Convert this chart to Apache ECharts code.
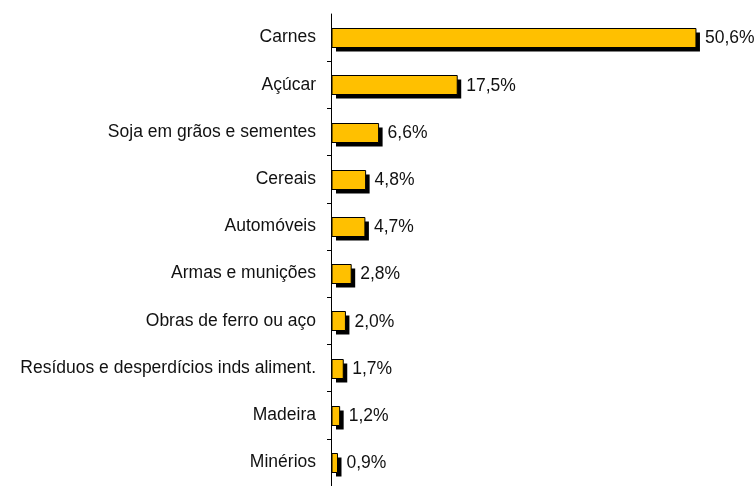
<!DOCTYPE html>
<html><head><meta charset="utf-8">
<script src="https://cdn.jsdelivr.net/npm/echarts@6/dist/echarts.min.js"></script>
<style>html,body{margin:0;padding:0;background:#fff}#c{width:755px;height:486px}</style>
</head><body><div id="c"></div>
<script>
const categories = ["Carnes","Açúcar","Soja em grãos e sementes","Cereais","Automóveis","Armas e munições","Obras de ferro ou aço","Resíduos e desperdícios inds aliment.","Madeira","Minérios"];
const values = [50.6,17.5,6.6,4.8,4.7,2.8,2.0,1.7,1.2,0.9];

const FONT = 'Liberation Sans, Arial, sans-serif';
const chart = echarts.init(document.getElementById('c'), null, {renderer:'canvas'});
chart.setOption({
  animation:false,
  grid:{left:331, top:14, width:396.7, bottom:-4, containLabel:false},
  xAxis:{type:'value', min:0, max:55, show:false},
  yAxis:{type:'category', data:categories, inverse:true,
    axisLine:{lineStyle:{color:'#000', width:1}},
    axisTick:{show:true, length:4, lineStyle:{color:'#000'}, interval:(i)=>i!==0},
    axisLabel:{color:'#111', fontSize:17.5, fontFamily:FONT, margin:15},
    splitLine:{show:false}
  },
  series:[{
    type:'custom',
    data:values.map((v,i)=>[v,i]),
    encode:{x:0, y:1},
    renderItem:function(params, api){
      const v = api.value(0), idx = api.value(1);
      const s = api.coord([0, idx]);
      const e = api.coord([v, idx]);
      const h = 19;
      const x0 = s[0] + 1, y0 = Math.round(s[1] - h/2) + 0.5;
      const w = Math.max(e[0] - x0, 2);
      return {type:'group', children:[
        {type:'rect', shape:{x:x0+4, y:y0+4, width:w, height:h}, style:{fill:'#000'}},
        {type:'rect', shape:{x:x0, y:y0, width:w, height:h}, style:{fill:'#FFC000', stroke:'#000', lineWidth:1}},
        {type:'text', x:e[0]+9, y:s[1]+1, style:{text:v.toFixed(1).replace('.',',')+'%', fill:'#111', font:'17.5px '+FONT, verticalAlign:'middle', align:'left'}}
      ]};
    }
  }]
});
</script></body></html>
